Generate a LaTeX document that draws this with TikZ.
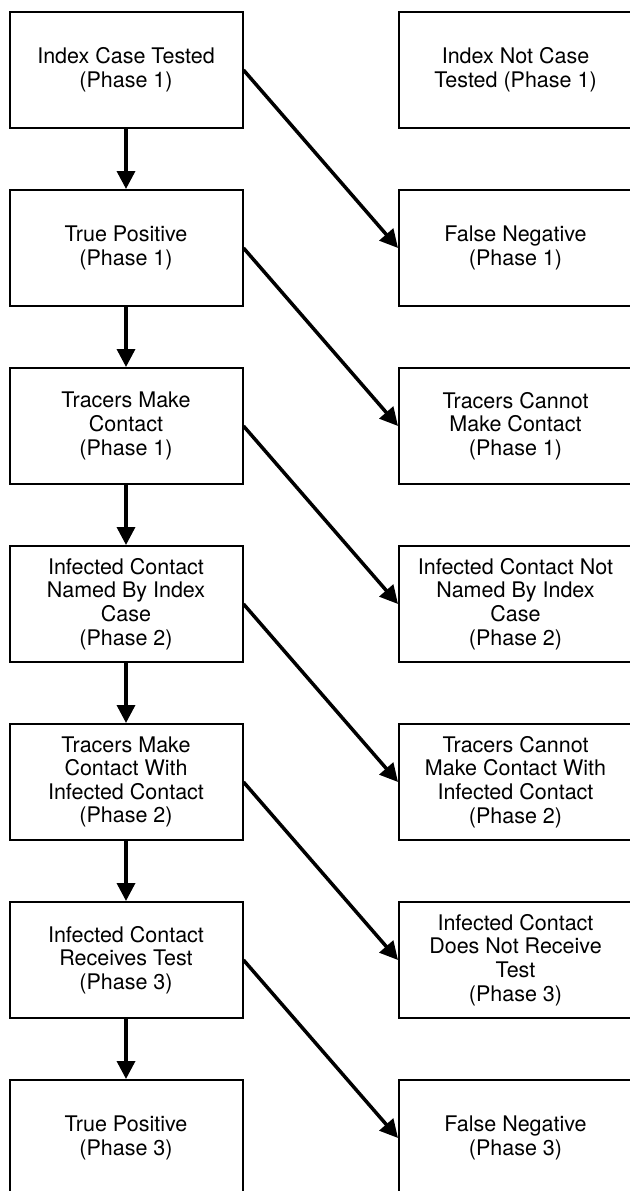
\documentclass[tikz,border=0pt]{standalone}
\usepackage{fontspec}
\setmainfont{TeX Gyre Heros}
\usetikzlibrary{arrows.meta}

\tikzset{
  phase/.style={draw=black, line width=2pt, minimum width=233pt, minimum height=116pt,
    inner sep=0pt, align=center, font=\fontsize{21.5}{23.6}\selectfont},
  flow/.style={black, line width=3.5pt, -{Triangle[length=18pt,width=18pt]}}
}

\begin{document}
\begin{tikzpicture}[x=1pt,y=-1pt]
            \path[fill=white, use as bounding box] (0,0) rectangle (629,1191);
            % left column
            \node[phase] (tested) at (126,70) {Index Case Tested\\(Phase 1)};
            \node[phase] (truepos1) at (126,248) {True Positive\\(Phase 1)};
            \node[phase] (contact1) at (126,426) {Tracers Make\\Contact\\(Phase 1)};
            \node[phase] (named) at (126,604) {Infected Contact\\Named By Index\\Case\\(Phase 2)};
            \node[phase] (contact2) at (126,782) {Tracers Make\\Contact With\\Infected Contact\\(Phase 2)};
            \node[phase] (receives) at (126,960) {Infected Contact\\Receives Test\\(Phase 3)};
            \node[phase] (truepos3) at (126,1138) {True Positive\\(Phase 3)};
            % right column
            \node[phase] (nottested) at (515.5,70) {Index Not Case\\Tested (Phase 1)};
            \node[phase] (falseneg1) at (515.5,248) {False Negative\\(Phase 1)};
            \node[phase] (nocontact1) at (515.5,426) {Tracers Cannot\\Make Contact\\(Phase 1)};
            \node[phase] (notnamed) at (515.5,604) {Infected Contact Not\\Named By Index\\Case\\(Phase 2)};
            \node[phase] (nocontact2) at (515.5,782) {Tracers Cannot\\Make Contact With\\Infected Contact\\(Phase 2)};
            \node[phase] (noreceive) at (515.5,960) {Infected Contact\\Does Not Receive\\Test\\(Phase 3)};
            \node[phase] (falseneg3) at (515.5,1138) {False Negative\\(Phase 3)};
            % down the left column
            \draw[flow] (tested) -- (truepos1);
            \draw[flow] (truepos1) -- (contact1);
            \draw[flow] (contact1) -- (named);
            \draw[flow] (named) -- (contact2);
            \draw[flow] (contact2) -- (receives);
            \draw[flow] (receives) -- (truepos3);
            % across to the right column
            \draw[flow] (tested.east) -- (falseneg1.west);
            \draw[flow] (truepos1.east) -- (nocontact1.west);
            \draw[flow] (contact1.east) -- (notnamed.west);
            \draw[flow] (named.east) -- (nocontact2.west);
            \draw[flow] (contact2.east) -- (noreceive.west);
            \draw[flow] (receives.east) -- (falseneg3.west);
\end{tikzpicture}
\end{document}
